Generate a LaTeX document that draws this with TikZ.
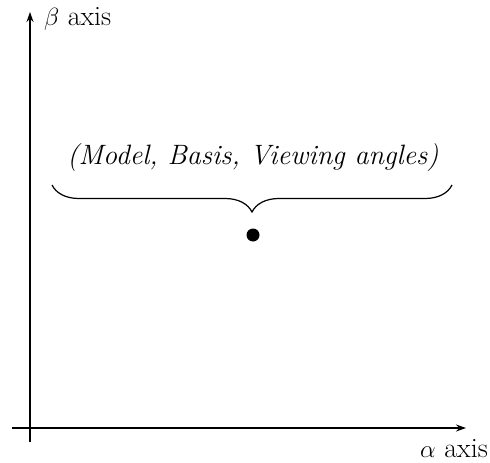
\documentclass[tikz,border=0pt]{standalone}
\usetikzlibrary{decorations.pathreplacing,arrows.meta}
\begin{document}
\begin{tikzpicture}[x=1pt,y=-1pt,
  axis/.style={line width=1.3pt,-{Stealth[length=10pt,width=7pt]}},
  lbl/.style={font=\fontsize{28}{32}\selectfont,inner sep=0pt},
  bracestyle/.style={line width=1.2pt,decorate,decoration={brace,amplitude=27pt}}]
\useasboundingbox (0,0) rectangle (490,463);
\coordinate (yb) at (30,442);
\coordinate (yt) at (30,12);
\coordinate (xl) at (12,428);
\coordinate (xr) at (466,428);
\draw[axis] (yb) -- (yt);
\draw[axis] (xl) -- (xr);
\node[lbl,anchor=west] (blab) at (44,19) {$\beta$ axis};
\node[lbl,anchor=east] (alab) at (488,449) {$\alpha$ axis};
\node[lbl] (txt) at (253,158) {\itshape (Model, Basis, Viewing angles)};
\coordinate (bl) at (52,185);
\coordinate (br) at (452,185);
\draw[bracestyle] (br) -- (bl);
\fill (253,235) circle (6.5pt) node (dot) {};
\end{tikzpicture}
\end{document}
